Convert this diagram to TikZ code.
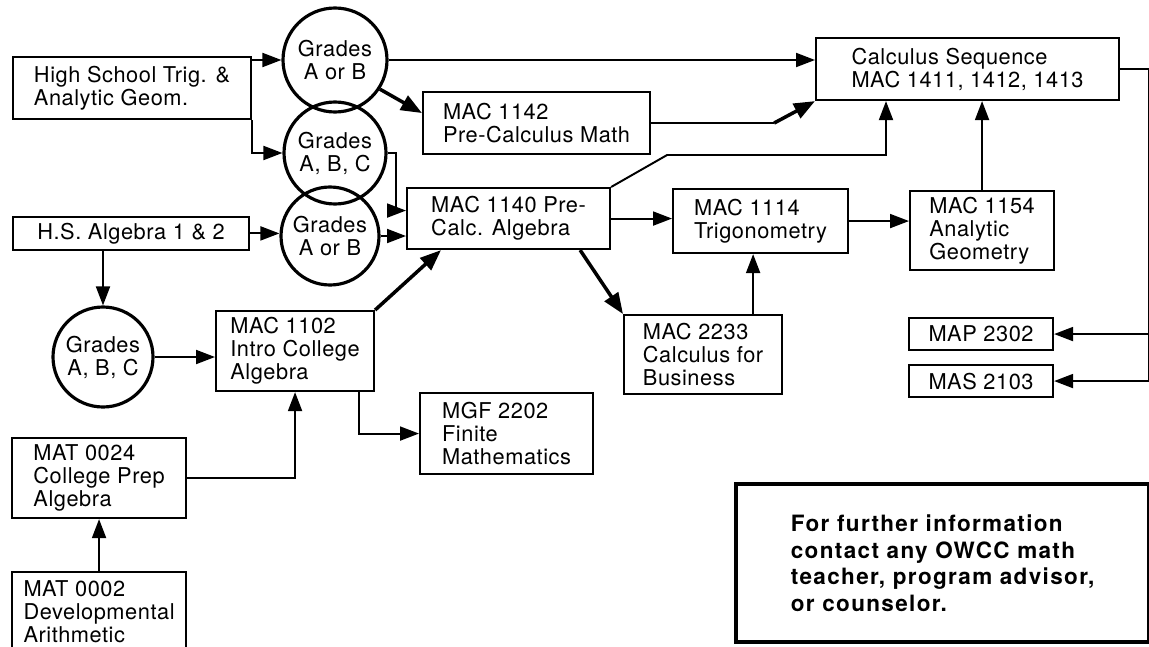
\documentclass[tikz,border=0pt]{standalone}
\usepackage{fontspec}
\setmainfont{TeX Gyre Heros}
\usepackage{tikz}
\usetikzlibrary{
	calc,
	arrows.meta
}
\newcommand{\flowfont}{\fontsize{12.4}{13.1}\selectfont\addfontfeatures{LetterSpace=2.5}}
\newcommand{\notefont}{\fontsize{12.8}{15.1}\selectfont\bfseries\addfontfeatures{LetterSpace=6}}

\begin{document}
\begin{tikzpicture}[
				x=0.2mm, y=-0.2mm,
				box/.style 2 args={draw, line width=1.2pt, anchor=north west, align=left, font=\flowfont, minimum width=#1, minimum height=#2},
				grade/.style={draw, circle, line width=1.8pt, align=center, inner sep=0pt, font=\flowfont, minimum size=#1},
				note/.style={draw, line width=2.4pt, anchor=north west, align=left, font=\notefont, minimum width=82.6mm, minimum height=31.6mm},
				wire/.style={line width=1.1pt},
				feed/.style={line width=1.1pt, -{Triangle[length=3.8mm, width=2.8mm]}},
				major/.style={line width=2pt, -{Triangle[length=4.2mm, width=3.2mm]}}
			]
				\useasboundingbox (0,0) rectangle (1149,646);

				% 高中课程
				\node[box={47.6mm}{12.4mm}] (trig) at (12,56)  {High School Trig. \&\\Analytic Geom.};
				\node[box={47.2mm}{6.2mm}]  (alg)  at (12,216) {H.S. Algebra 1 \& 2};

				% 成绩
				\node[grade=20.8mm] (g1) at (335,60)  {Grades\\A or B};
				\node[grade=20.4mm] (g2) at (335,153) {Grades\\A, B, C};
				\node[grade=19.6mm] (g3) at (330,236) {Grades\\A or B};
				\node[grade=20mm]   (g4) at (103,357) {Grades\\A, B, C};

				% 课程
				\node[box={45.4mm}{12.4mm}] (mac1142) at (422,91)  {MAC 1142\\Pre-Calculus Math};
				\node[box={40.6mm}{12.2mm}] (mac1140) at (406,187) {MAC 1140 Pre-\\Calc. Algebra};
				\node[box={60.6mm}{12.4mm}] (calc)    at (815,37)  {Calculus Sequence\\MAC 1411, 1412, 1413};
				\node[box={35mm}{12.8mm}]   (mac1114) at (672,188) {MAC 1114\\Trigonometry};
				\node[box={28.8mm}{15.8mm}] (mac1154) at (909,190) {MAC 1154\\Analytic\\Geometry};
				\node[box={31.6mm}{16mm}]   (mac1102) at (215,310) {MAC 1102\\Intro College\\Algebra};
				\node[box={31.6mm}{15.8mm}] (mac2233) at (623,314) {MAC 2233\\Calculus for\\Business};
				\node[box={34.6mm}{16.2mm}] (mgf)     at (419,392) {MGF 2202\\Finite\\Mathematics};
				\node[box={34.8mm}{16mm}]   (mat24)   at (11,437)  {MAT 0024\\College Prep\\Algebra};
				\node[box={34.8mm}{16mm}]   (mat02)   at (11,571)  {MAT 0002\\Developmental\\Arithmetic};
				\node[box={28.8mm}{6.4mm}, align=center] (map) at (908,317) {MAP 2302};
				\node[box={28.8mm}{6.4mm}, align=center] (mas) at (908,364) {MAS 2103};

				% 说明
				\node[note] (info) at (734,482) {For further information\\contact any OWCC math\\teacher, program advisor,\\or counselor.};

				% 连线
				\draw[feed] (trig.east |- g1.west) -- (g1.west);
				\draw[feed] (trig.south east) |- (g2.west);
				\draw[feed] (alg.east) -- (alg.east -| g3.west);
				\draw[feed] (g4 |- alg.south) -- (g4.north);
				\draw[feed] (g4.east) -- (g4.east -| mac1102.west);
				\draw[feed] (mat24.east) -| (mac1102.south);
				\draw[feed] (mat02.north) -- (mat24.south);
				\draw[feed] ($(mac1102.south east)+(-16,0)$) |- (mgf.west);
				\draw[major] (mac1102.north east) -- ($(mac1140.south west)+(35,0)$);

				\draw[major] (g1.-33) -- ($(mac1142.west)+(0,-10)$);
				\draw[feed] (g1.east) -- (g1.east -| calc.west);
				\coordinate (k1) at ($(mac1142.east)+(123,0)$);
				\draw[wire] (mac1142.east) -- (k1);
				\draw[major] (k1) -- (calc.south west);

				\draw[feed] (g2.east) -- ++(8,0) |- ($(mac1140.west)+(0,-8)$);
				\draw[feed] (g3.east) -- (g3.east -| mac1140.west);
				\coordinate (k2) at ($(mac1140.north east)+(56,-32)$);
				\draw[feed] (mac1140.north east) -- (k2) -| ($(calc.south west)+(71,0)$);
				\draw[feed] (mac1140.east) -- (mac1140.east -| mac1114.west);
				\draw[major] ($(mac1140.south east)+(-31,0)$) -- (mac2233.north west);
				\draw[feed] ($(mac2233.north east)+(-30,0)$) coordinate (k3) -- (k3 |- mac1114.south);

				\draw[feed] (mac1114.east) -- (mac1114.east -| mac1154.west);
				\draw[feed] (mac1154.north) -- (mac1154.north |- calc.south);
				\draw[feed] (calc.east) -| ($(mas.east)+(95,0)$) -- (mas.east);
				\draw[feed] ($(map.east)+(95,0)$) -- (map.east);
			\end{tikzpicture}
\end{document}
